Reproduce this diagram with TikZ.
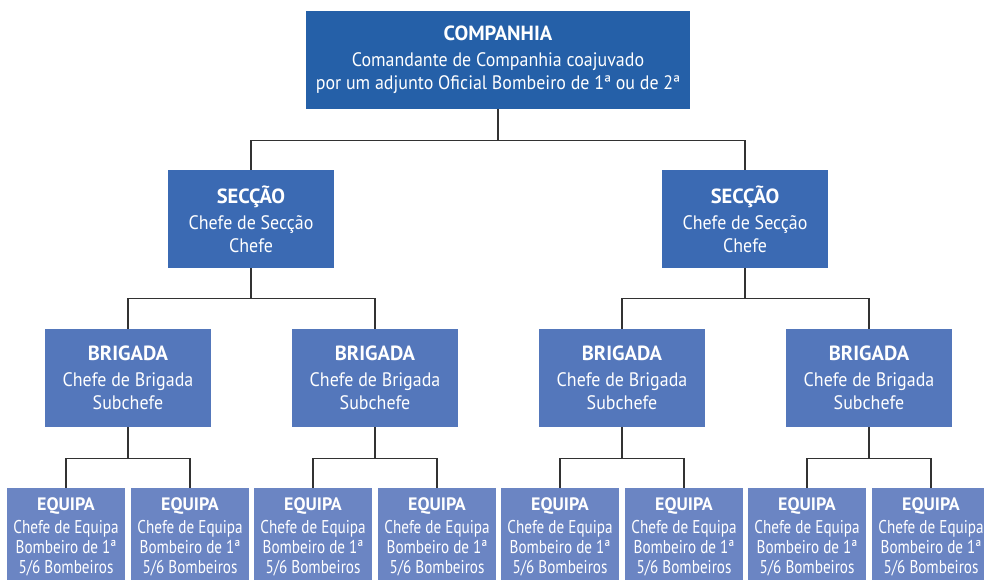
\documentclass[tikz,border=0pt]{standalone}
\usepackage{fontspec}
\setmainfont{PT Sans}
\newfontfamily\bodyfont[FakeStretch=0.92]{PT Sans}
\newfontfamily\narrowfont[FakeStretch=0.82]{PT Sans}
\newcommand{\unithead}[1]{{\rmfamily\bfseries\fontsize{20.5}{24}\selectfont #1}}
\newcommand{\teamhead}[1]{{\rmfamily\bfseries\fontsize{18}{21}\selectfont #1}}
\definecolor{compblue}{RGB}{37, 96, 168}
\definecolor{secblue}{RGB}{59, 106, 179}
\definecolor{brigblue}{RGB}{84, 119, 187}
\definecolor{equipblue}{RGB}{107, 133, 195}
\definecolor{linegray}{RGB}{50, 50, 50}
\usetikzlibrary{positioning, calc}
\tikzset{
  unitbox/.style={inner sep=0pt, align=center, text=white, anchor=center, minimum height=98pt,
    font=\bodyfont\fontsize{19.5}{23}\selectfont},
  compbox/.style={unitbox, fill=compblue, minimum width=384pt},
  secbox/.style={unitbox, fill=secblue, minimum width=166pt},
  brigbox/.style={unitbox, fill=brigblue, minimum width=166pt},
  equipbox/.style={unitbox, fill=equipblue, minimum width=118pt, font=\narrowfont\fontsize{18.5}{20}\selectfont},
  link/.style={draw=linegray, line width=1.2pt}
}

\begin{document}
\begin{tikzpicture}[x=1pt, y=-1pt]
  \useasboundingbox (0,0) rectangle (984,579);
  \clip (0,0) rectangle (984,579);

  % Companhia
  \node[compbox] (comp) at (498, 60) {\unithead{COMPANHIA}\\[3pt]Comandante de Companhia coajuvado\\por um adjunto Oficial Bombeiro de 1ª ou de 2ª};

  % Seccoes
  \node[secbox] (secA) at (251, 219) {\unithead{SECÇÃO}\\[3pt]Chefe de Secção\\Chefe};
  \node[secbox] (secB) at (745, 219) {\unithead{SECÇÃO}\\[3pt]Chefe de Secção\\Chefe};
  \draw[link] (comp.south) -- +(0,31) -| (secA.north);
  \draw[link] (comp.south) -- +(0,31) -| (secB.north);

  % Brigadas
  \node[brigbox] (brigA) at (128, 378) {\unithead{BRIGADA}\\[3pt]Chefe de Brigada\\Subchefe};
  \node[brigbox] (brigB) at (375, 378) {\unithead{BRIGADA}\\[3pt]Chefe de Brigada\\Subchefe};
  \node[brigbox] (brigC) at (622, 378) {\unithead{BRIGADA}\\[3pt]Chefe de Brigada\\Subchefe};
  \node[brigbox] (brigD) at (869, 378) {\unithead{BRIGADA}\\[3pt]Chefe de Brigada\\Subchefe};
  \draw[link] (secA.south) -- +(0,30) -| (brigA.north);
  \draw[link] (secA.south) -- +(0,30) -| (brigB.north);
  \draw[link] (secB.south) -- +(0,30) -| (brigC.north);
  \draw[link] (secB.south) -- +(0,30) -| (brigD.north);

  % Equipas
  \foreach \b/\i/\x in {brigA/1/66, brigA/2/190, brigB/3/313, brigB/4/437,
                        brigC/5/560, brigC/6/684, brigD/7/807, brigD/8/931} {
    \node[equipbox] (eq\i) at (\x, 537) {\teamhead{EQUIPA}\\[3pt]Chefe de Equipa\\Bombeiro de 1ª\\5/6 Bombeiros};
    \draw[link] (\b.south) -- +(0,31) -| (eq\i.north);
  }
\end{tikzpicture}
\end{document}
